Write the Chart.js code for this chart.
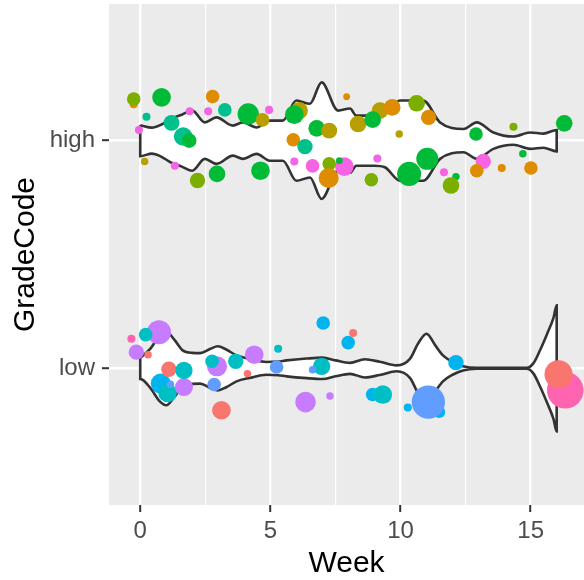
<!DOCTYPE html>
<html>
<head>
<meta charset="utf-8">
<script src="https://cdn.jsdelivr.net/npm/chart.js@4.4.0/dist/chart.umd.min.js"></script>
<style>
  html, body { margin: 0; padding: 0; background: #ffffff; }
</style>
</head>
<body>
<canvas id="chart" width="584" height="580"></canvas>
<script>
// axis labels
const weekTicks = [0, 5, 10, 15];
const gradeLabels = ["low", "high"]; // positions 1 and 2 on the y axis

// violin outlines: week and half width (GradeCode units)
const highWeeks = [0, 0.45, 0.8, 1.2, 1.6, 2.0, 2.48, 2.93, 3.56, 3.94, 4.47, 4.98, 5.48, 6.0, 6.52, 6.97, 7.6, 8.06, 8.3, 9.0, 9.4, 9.98, 10.87, 11.52, 12.42, 12.93, 13.57, 14.34, 14.98, 15.49, 16];
const highWidth = [0.068, 0.057, 0.07, 0.097, 0.114, 0.132, 0.08, 0.102, 0.066, 0.08, 0.058, 0.088, 0.088, 0.176, 0.162, 0.256, 0.132, 0.141, 0.11, 0.11, 0.117, 0.176, 0.176, 0.08, 0.051, 0.08, 0.036, 0.018, 0.036, 0.031, 0.047];
const lowWeeks = [0, 0.4, 0.75, 1.0, 1.3, 1.63, 2.0, 2.3, 2.7, 2.98, 3.3, 3.7, 4.2, 4.85, 5.3, 5.62, 6.39, 7.0, 7.5, 8.06, 8.63, 9.2, 9.85, 10.37, 10.67, 11.0, 11.33, 11.63, 12.0, 12.4, 12.93, 14.85, 15.11, 15.37, 15.62, 15.88, 16];
const lowWidth = [0.046, 0.088, 0.145, 0.162, 0.127, 0.079, 0.068, 0.067, 0.086, 0.097, 0.083, 0.057, 0.042, 0.028, 0.03, 0.035, 0.043, 0.047, 0.035, 0.024, 0.04, 0.029, 0.013, 0.043, 0.108, 0.152, 0.102, 0.057, 0.028, 0.009, 0.002, 0.002, 0.023, 0.082, 0.148, 0.223, 0.277];

// jittered points, grade "high"
const highWeek = [-0.25, -0.25, 0.82, 2.78, 0.24, 3.25, 1.9, 2.61, 1.2, -0.05, 1.65, 1.88, 4.15, 4.7, 4.95, 6.11, 5.92, 6.78, 7.26, 5.88, 6.33, 7.93, 0.17, 1.33, 2.2, 2.95, 4.62, 5.92, 6.62, 7.84, 7.26, 7.65, 7.24, 9.21, 9.68, 10.62, 8.37, 8.93, 11.08, 9.95, 12.9, 14.34, 16.29, 14.7, 9.11, 8.88, 10.33, 11.03, 11.67, 12.13, 11.94, 13.18, 12.93, 13.89, 15.01];
const highPos = [2.16, 2.183, 2.19, 2.194, 2.105, 2.135, 2.129, 2.129, 2.078, 2.047, 2.018, 2.0, 2.117, 2.091, 2.135, 2.132, 2.114, 2.054, 2.044, 2.004, 1.974, 2.193, 1.908, 1.89, 1.825, 1.854, 1.868, 1.908, 1.889, 1.886, 1.898, 1.912, 1.836, 2.132, 2.146, 2.164, 2.073, 2.092, 2.102, 2.029, 2.029, 2.061, 2.076, 1.942, 1.922, 1.828, 1.854, 1.92, 1.861, 1.842, 1.803, 1.909, 1.868, 1.88, 1.88];
const highSize = [1.4, 4, 7.5, 4, 1.4, 4, 1.4, 1.4, 5.5, 1.4, 7.5, 4.6, 9.9, 4, 1.4, 6.5, 7.5, 6, 5.5, 4, 5.1, 1, 1.2, 1.4, 5.1, 6, 7.5, 1.4, 4, 7.5, 4, 1, 8.7, 6, 6, 6, 6, 6, 5.1, 1.2, 4, 1.4, 6, 1.2, 1.4, 4, 12.5, 10.5, 1.4, 1.2, 6, 5.1, 4, 1.4, 4];
const highStudent = [1, 3, 4, 1, 5, 5, 10, 10, 5, 10, 5, 4, 4, 2, 10, 2, 4, 4, 2, 1, 5, 1, 2, 10, 3, 4, 4, 10, 10, 10, 3, 4, 1, 2, 1, 3, 2, 4, 1, 2, 4, 3, 4, 4, 10, 3, 4, 4, 10, 4, 3, 10, 1, 1, 1];

// jittered points, grade "low"
const lowWeek = [-0.34, 0.72, 0.21, -0.15, 0.3, 0.79, 1.05, 1.16, 1.1, 1.68, 1.68, 2.95, 2.76, 3.67, 4.38, 2.84, 4.12, 3.12, 5.3, 5.24, 7.03, 6.97, 6.62, 6.35, 7.29, 7.99, 8.18, 8.93, 9.32, 12.13, 11.49, 11.07, 10.28, 16.33, 16.07];
const lowPos = [1.13, 1.159, 1.148, 1.071, 1.06, 0.933, 0.892, 0.93, 0.996, 0.918, 0.991, 1.009, 1.031, 1.031, 1.06, 0.929, 0.977, 0.816, 1.086, 1.006, 1.199, 1.009, 0.994, 0.852, 0.879, 1.113, 1.155, 0.885, 0.885, 1.025, 0.808, 0.852, 0.828, 0.904, 0.974];
const lowSize = [1.4, 12.5, 4, 5.1, 1.2, 8.7, 7.5, 1.2, 5.1, 7, 6.5, 8.7, 4, 5.1, 7.5, 4, 1.2, 7.5, 1.4, 4, 4, 6.5, 1.2, 9.2, 1.2, 4, 1.4, 4, 7.5, 5.1, 3.1, 24, 1.4, 29, 17];
const lowStudent = [11, 9, 6, 9, 0, 7, 6, 8, 0, 9, 6, 9, 6, 6, 9, 8, 0, 0, 6, 8, 7, 6, 8, 9, 9, 7, 0, 7, 6, 7, 7, 8, 7, 11, 0];

const palette = ["#F8766D", "#DE8C00", "#B79F00", "#7CAE00", "#00BA38", "#00C08B",
                 "#00BFC4", "#00B4F0", "#619CFF", "#C77CFF", "#F564E3", "#FF64B0"];

function radius(v) {
  return 3.4 * Math.sqrt(v);
}

function bubbles(weeks, pos, size) {
  return weeks.map((w, i) => ({ x: w, y: pos[i], r: radius(size[i]) }));
}

// closed outline: top edge left to right, bottom edge back again
function violin(weeks, width, centre) {
  const top = weeks.map((w, i) => ({ x: w, y: centre + width[i] }));
  const bottom = weeks.map((w, i) => ({ x: w, y: centre - width[i] })).reverse();
  return top.concat(bottom, [top[0]]);
}

// minor grid lines half way between the labelled weeks
const gridWeeks = [];
weekTicks.forEach((w, i) => {
  gridWeeks.push(w);
  if (i < weekTicks.length - 1) gridWeeks.push((w + weekTicks[i + 1]) / 2);
});

const panelBg = {
  id: "panelBg",
  beforeDraw(chart) {
    const { ctx, chartArea } = chart;
    ctx.save();
    ctx.fillStyle = "#EBEBEB";
    ctx.fillRect(chartArea.left, chartArea.top, chartArea.right - chartArea.left, chartArea.bottom - chartArea.top);
    ctx.restore();
  },
};

const tickFont = { family: "'Liberation Sans', Arial, sans-serif", size: 24 };
const titleFont = { family: "'Liberation Sans', Arial, sans-serif", size: 30, lineHeight: 1 };

function noPadding(scale) {
  scale.paddingTop = 0;
  scale.paddingBottom = 0;
  scale.paddingLeft = 0;
  scale.paddingRight = 0;
}

function violinSet(data) {
  return {
    type: "line",
    data: data,
    borderColor: "#333333",
    borderWidth: 2.6,
    backgroundColor: "#FFFFFF",
    fill: "shape",
    pointRadius: 0,
    cubicInterpolationMode: "monotone",
    order: 2,
  };
}

function pointSet(data, students) {
  return {
    type: "bubble",
    data: data,
    backgroundColor: students.map((s) => palette[s]),
    borderWidth: 0,
    order: 1,
  };
}

const ctx = document.getElementById("chart").getContext("2d");
new Chart(ctx, {
  type: "bubble",
  data: {
    datasets: [
      pointSet(bubbles(highWeek, highPos, highSize), highStudent),
      pointSet(bubbles(lowWeek, lowPos, lowSize), lowStudent),
      violinSet(violin(highWeeks, highWidth, 2)),
      violinSet(violin(lowWeeks, lowWidth, 1)),
    ],
  },
  options: {
    responsive: false,
    animation: false,
    layout: { autoPadding: false, padding: { top: 4, right: 0, bottom: 0, left: 0 } },
    plugins: { legend: { display: false }, tooltip: { enabled: false } },
    scales: {
      x: {
        type: "linear",
        min: -1.2,
        max: 17.05,
        afterFit(scale) { scale.height = 75; noPadding(scale); },
        afterBuildTicks(scale) { scale.ticks = gridWeeks.map((v) => ({ value: v })); },
        border: { display: false },
        grid: {
          color: "#FFFFFF",
          lineWidth: (c) => (weekTicks.includes(c.tick.value) ? 2.4 : 1.2),
          tickColor: (c) => (weekTicks.includes(c.tick.value) ? "#333333" : "rgba(0,0,0,0)"),
          tickLength: 7,
          tickWidth: 2,
        },
        ticks: {
          autoSkip: false,
          maxRotation: 0,
          padding: 4.5,
          color: "#4D4D4D",
          font: tickFont,
          callback: (v) => (weekTicks.includes(v) ? String(v) : ""),
        },
        title: { display: true, text: "Week", color: "#000000", font: titleFont, padding: { top: 0, bottom: 1 } },
      },
      y: {
        type: "linear",
        min: 0.4,
        max: 2.6,
        afterFit(scale) { scale.width = 109; noPadding(scale); },
        afterBuildTicks(scale) { scale.ticks = gradeLabels.map((g, i) => ({ value: i + 1 })); },
        border: { display: false },
        grid: {
          color: "#FFFFFF",
          lineWidth: 2.4,
          tickColor: "#333333",
          tickLength: 7,
          tickWidth: 2,
        },
        ticks: {
          padding: 7,
          color: "#4D4D4D",
          font: tickFont,
          callback: (v) => gradeLabels[v - 1],
        },
        title: { display: true, text: "GradeCode", color: "#000000", font: titleFont, padding: { top: 10.5, bottom: 0 } },
      },
    },
  },
  plugins: [panelBg],
});
</script>
</body>
</html>
